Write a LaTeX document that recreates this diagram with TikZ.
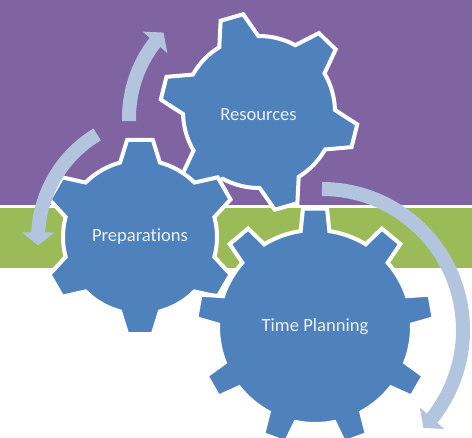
\documentclass[tikz,border=0pt]{standalone}
\usepackage{fontspec}
\setmainfont{Carlito}[Ligatures=NoCommon]
\usetikzlibrary{arrows.meta,bending}

\definecolor{bandpurple}{RGB}{128,100,162}
\definecolor{bandgreen}{RGB}{155,187,89}
\definecolor{gearblue}{RGB}{79,129,189}
\definecolor{cyclec}{RGB}{178,196,222}
\definecolor{textc}{RGB}{236,241,248}

% #1 centre, #2 teeth, #3 first tooth angle, #4 outer radius,
% #5 body radius, #6 half-angle at tip, #7 half-angle at root
\newcommand{\drawgear}[7]{%
  \pgfmathsetmacro{\gstep}{360/#2}%
  \begin{scope}[shift={(#1)}]
    \draw[gearbody] ({#3-#7}:#5)
      \foreach \k in {1,...,#2} {
        -- ({#3+(\k-1)*\gstep-#6}:#4) -- ({#3+(\k-1)*\gstep+#6}:#4)
        -- ({#3+(\k-1)*\gstep+#7}:#5)
        arc[start angle={#3+(\k-1)*\gstep+#7}, end angle={#3+\k*\gstep-#7}, radius=#5pt]
      } -- cycle;
  \end{scope}}

\begin{document}
\begin{tikzpicture}[x=1pt, y=1pt,
    gearbody/.style={fill=gearblue, draw=white, line width=4pt},
    geartext/.style={text=textc, font=\fontsize{18.6}{22}\selectfont, anchor=base, inner sep=0pt},
    cyc/.style={draw=cyclec, line width=14pt, -{Triangle[width=32pt,length=13pt]}}
  ]
  \useasboundingbox (0,0) rectangle (472,438);
  \fill[white] (0,0) rectangle (472,438);
  \fill[bandpurple] (0,233) rectangle (472,438);
  \fill[bandgreen] (0,170) rectangle (472,230);

  \coordinate (resc) at (259,326);
  \coordinate (prepc) at (140,201);
  \coordinate (timec) at (315,111);

  \drawgear{resc}{6}{46}{99}{76}{6.8}{15.5}
  \drawgear{prepc}{6}{90}{98}{77}{7.5}{15}
  \drawgear{timec}{9}{90}{119}{97}{5.8}{8.5}

  \node[geartext] (res) at (258.5,317) {Resources};
  \node[geartext] (prep) at (140,196) {Preparations};
  \node[geartext] (time) at (315,106.5) {Time Planning};

  \draw[cyc] ([shift={(160,199)}]121:122) arc[start angle=121, end angle=183, radius=122pt];
  \draw[cyc] ([shift={(252,320)}]181.5:123) arc[start angle=181.5, end angle=136, radius=123pt];
  \draw[cyc] ([shift={(322,108)}]90:141) arc[start angle=90, end angle=-44, radius=141pt];
\end{tikzpicture}
\end{document}
